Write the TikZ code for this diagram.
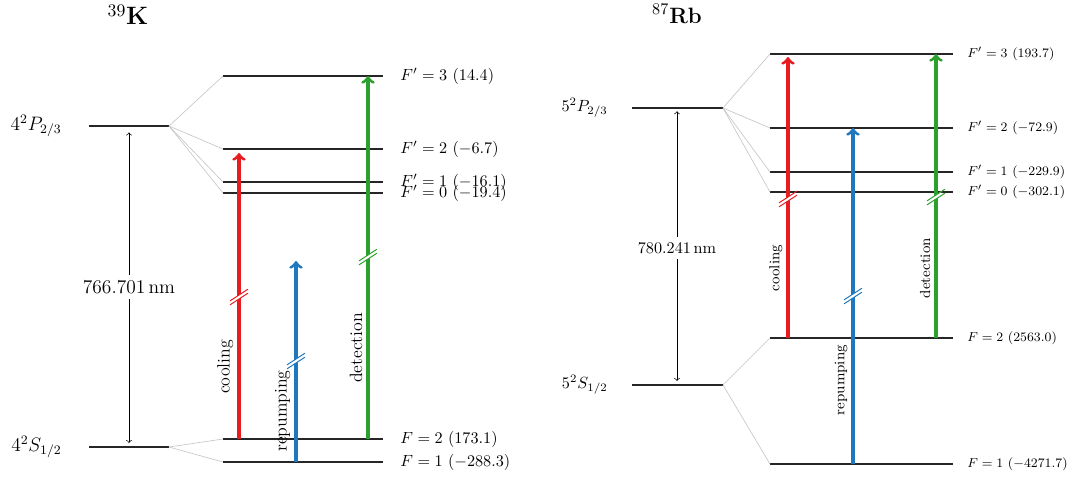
\documentclass[tikz,border=0pt]{standalone}
\usepackage{amsmath}
\usepackage{tikz}

\definecolor{coolred}{RGB}{232,28,32}
\definecolor{repblue}{RGB}{31,119,190}
\definecolor{detgreen}{RGB}{44,160,44}

\tikzset{
    mainlevel/.style={line width=1pt, black!85},
    hflevel/.style={line width=0.7pt, black!85},
    fan/.style={thin, gray!45},
    laser/.style={->, line width=1.9pt},
    lvllab/.style={inner sep=0pt},
    hflab/.style={inner sep=0pt, anchor=west},
    laserlab/.style={rotate=90, anchor=south},
    gaplab/.style={fill=white, inner sep=3.5pt},
}

% break mark on a laser arrow: x, y, colour
\newcommand{\cutmark}[3]{%
    \begin{scope}[shift={(#1,#2)}]
        \fill[white] (-5,5.25) -- (5,-1.25) -- (5,-5.25) -- (-5,1.25) -- cycle;
        \draw[#3, semithick] (-9,7.85) -- (9,-3.85);
        \draw[#3, semithick] (-9,3.85) -- (9,-7.85);
    \end{scope}}

\begin{document}
\begin{tikzpicture}[x=0.617pt, y=-0.617pt]
    \useasboundingbox (0,0) rectangle (1074,478);

    % ---------------- 39K ----------------
    \node[inner sep=0pt, font=\fontsize{15.5}{18}\selectfont] (Ktitle) at (128,15) {$^{39}$\textbf{K}};

    % fine structure levels
    \draw[mainlevel] (89,126) coordinate (KPl) -- (169,126) coordinate (KP);
    \draw[mainlevel] (89,447) coordinate (KSl) -- (169,447) coordinate (KS);
    \node[lvllab, anchor=east, font=\large] (KPlab) at (62,126) {$4^2P_{2/3}$};
    \node[lvllab, anchor=east, font=\large] (KSlab) at (62,447) {$4^2S_{1/2}$};

    % wavelength
    \coordinate (Kwtop) at (129,126);
    \coordinate (Kwbot) at (129,447);
    \draw[<->, shorten <=4pt, shorten >=2.5pt] (Kwtop) -- (Kwbot);
    \node[gaplab, font=\large] (Kwl) at (129,287) {766.701\,nm};

    % hyperfine levels
    \draw[hflevel] (223,76) coordinate (KF3l) -- (383,76) coordinate (KF3);
    \draw[hflevel] (223,149) coordinate (KF2l) -- (383,149) coordinate (KF2);
    \draw[hflevel] (223,182) coordinate (KF1l) -- (383,182) coordinate (KF1);
    \draw[hflevel] (223,193) coordinate (KF0l) -- (383,193) coordinate (KF0);
    \draw[hflevel] (223,439) coordinate (KG2l) -- (383,439) coordinate (KG2);
    \draw[hflevel] (223,462) coordinate (KG1l) -- (383,462) coordinate (KG1);
    \draw[fan] (KP) -- (KF3l);
    \draw[fan] (KP) -- (KF2l);
    \draw[fan] (KP) -- (KF1l);
    \draw[fan] (KP) -- (KF0l);
    \draw[fan] (KS) -- (KG2l);
    \draw[fan] (KS) -- (KG1l);

    \node[hflab] (KF3lab) at (400,76) {$F'=3$ $(14.4)$};
    \node[hflab] (KF2lab) at (400,149) {$F'=2$ $(-6.7)$};
    \node[hflab] (KF1lab) at (400,182) {$F'=1$ $(-16.1)$};
    \node[hflab] (KF0lab) at (400,193) {$F'=0$ $(-19.4)$};
    \node[hflab] (KG2lab) at (400,439) {$F=2$ $(173.1)$};
    \node[hflab] (KG1lab) at (400,462) {$F=1$ $(-288.3)$};

    % lasers
    \coordinate (Kc0) at (239,439);
    \coordinate (Kc1) at (239,153);
    \coordinate (Kr0) at (296,462);
    \coordinate (Kr1) at (296,261);
    \coordinate (Kd0) at (368,439);
    \coordinate (Kd1) at (368,76);
    \draw[laser, coolred] (Kc0) -- (Kc1);
    \draw[laser, repblue] (Kr0) -- (Kr1);
    \draw[laser, detgreen] (Kd0) -- (Kd1);
    \cutmark{239}{297}{coolred}
    \cutmark{296}{361}{repblue}
    \cutmark{368}{257}{detgreen}
    \node[laserlab, font=\fontsize{11}{13}\selectfont] (Kclab) at (239,367) {cooling};
    \node[laserlab, font=\fontsize{11}{13}\selectfont] (Krlab) at (296,411) {repumping};
    \node[laserlab, font=\fontsize{11}{13}\selectfont] (Kdlab) at (368,348) {detection};

    % ---------------- 87Rb ----------------
    \node[inner sep=0pt, font=\fontsize{13.7}{16}\selectfont] (Rtitle) at (677,14) {$^{87}$\textbf{Rb}};

    % fine structure levels
    \draw[mainlevel] (632,108) coordinate (RPl) -- (723,108) coordinate (RP);
    \draw[mainlevel] (632,385) coordinate (RSl) -- (723,385) coordinate (RS);
    \node[lvllab, anchor=east] (RPlab) at (608,108) {$5^2P_{2/3}$};
    \node[lvllab, anchor=east] (RSlab) at (608,385) {$5^2S_{1/2}$};

    % wavelength
    \coordinate (Rwtop) at (677,108);
    \coordinate (Rwbot) at (677,385);
    \draw[<->, shorten <=2pt, shorten >=2.5pt] (Rwtop) -- (Rwbot);
    \node[gaplab, inner sep=3pt] (Rwl) at (677,248) {780.241\,nm};

    % hyperfine levels
    \draw[hflevel] (770,54) coordinate (RF3l) -- (953,54) coordinate (RF3);
    \draw[hflevel] (770,128) coordinate (RF2l) -- (953,128) coordinate (RF2);
    \draw[hflevel] (770,172) coordinate (RF1l) -- (953,172) coordinate (RF1);
    \draw[hflevel] (770,192) coordinate (RF0l) -- (953,192) coordinate (RF0);
    \draw[hflevel] (770,338) coordinate (RG2l) -- (953,338) coordinate (RG2);
    \draw[hflevel] (770,464) coordinate (RG1l) -- (953,464) coordinate (RG1);
    \draw[fan] (RP) -- (RF3l);
    \draw[fan] (RP) -- (RF2l);
    \draw[fan] (RP) -- (RF1l);
    \draw[fan] (RP) -- (RF0l);
    \draw[fan] (RS) -- (RG2l);
    \draw[fan] (RS) -- (RG1l);

    \node[hflab, font=\fontsize{8.5}{10}\selectfont] (RF3lab) at (967,54) {$F'=3$ $(193.7)$};
    \node[hflab, font=\fontsize{8.5}{10}\selectfont] (RF2lab) at (967,128) {$F'=2$ $(-72.9)$};
    \node[hflab, font=\fontsize{8.5}{10}\selectfont] (RF1lab) at (967,172) {$F'=1$ $(-229.9)$};
    \node[hflab, font=\fontsize{8.5}{10}\selectfont] (RF0lab) at (967,192) {$F'=0$ $(-302.1)$};
    \node[hflab, font=\fontsize{8.5}{10}\selectfont] (RG2lab) at (967,338) {$F=2$ $(2563.0)$};
    \node[hflab, font=\fontsize{8.5}{10}\selectfont] (RG1lab) at (967,464) {$F=1$ $(-4271.7)$};

    % lasers
    \coordinate (Rc0) at (788,338);
    \coordinate (Rc1) at (788,57);
    \coordinate (Rr0) at (853,464);
    \coordinate (Rr1) at (853,128);
    \coordinate (Rd0) at (936,338);
    \coordinate (Rd1) at (936,54);
    \draw[laser, coolred] (Rc0) -- (Rc1);
    \draw[laser, repblue] (Rr0) -- (Rr1);
    \draw[laser, detgreen] (Rd0) -- (Rd1);
    \cutmark{788}{199}{coolred}
    \cutmark{853}{296}{repblue}
    \cutmark{936}{197}{detgreen}
    \node[laserlab, font=\small] (Rclab) at (788,268) {cooling};
    \node[laserlab, font=\small] (Rrlab) at (853,380) {repumping};
    \node[laserlab, font=\small] (Rdlab) at (936,268) {detection};
\end{tikzpicture}
\end{document}
